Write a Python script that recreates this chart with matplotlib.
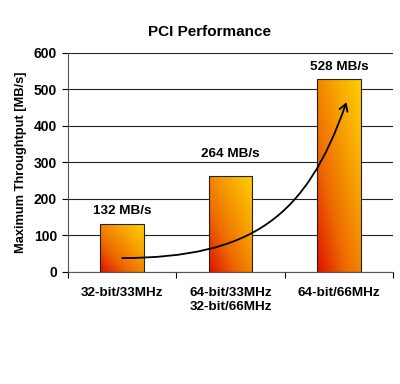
import numpy as np
import matplotlib
matplotlib.use('Agg')
import matplotlib.pyplot as plt
from matplotlib.colors import LinearSegmentedColormap
from matplotlib.patches import FancyArrowPatch
from matplotlib.path import Path

plt.rcParams['font.family'] = ['Liberation Sans', 'DejaVu Sans']

# data
categories = ['32-bit/33MHz', '64-bit/33MHz\n32-bit/66MHz', '64-bit/66MHz']
throughput = [132, 264, 528]
bar_labels = ['132 MB/s', '264 MB/s', '528 MB/s']
# trend curve (bezier control points, data coords)
curve_x = [0.0, 1.2, 1.7, 2.07]
curve_y = [38, 40, 150, 465]

fig = plt.figure(figsize=(4.0, 3.84), dpi=100)
ax = fig.add_axes([0.17, 0.2917, 0.8125, 0.5703])

x = np.arange(len(categories))
width = 0.4
bars = ax.bar(x, throughput, width=width, color='none', edgecolor='#222222',
              linewidth=0.8, zorder=3)

cmap = LinearSegmentedColormap.from_list(
    'pci', ['#dd1400', '#ee6a00', '#f7a000', '#ffcf00'])
u, v = np.meshgrid(np.linspace(0, 1, 64), np.linspace(0, 1, 64))
grad = (u + v) / 2
for b in bars:
    x0, y0 = b.get_x(), b.get_y()
    im = ax.imshow(grad, cmap=cmap, origin='lower', aspect='auto',
                   extent=[x0, x0 + b.get_width(), y0, y0 + b.get_height()],
                   zorder=2)
    im.set_clip_path(b)

offsets = [5, 11.5, 4.5]
for b, lab, off in zip(bars, bar_labels, offsets):
    ax.annotate(lab, (b.get_x() + b.get_width() / 2, b.get_height()),
                xytext=(0, off), textcoords='offset points',
                ha='center', va='bottom', fontsize=9.7, fontweight='bold')

path = Path(list(zip(curve_x, curve_y)),
            [Path.MOVETO, Path.CURVE4, Path.CURVE4, Path.CURVE4])
arrow = FancyArrowPatch(path=path, arrowstyle='->,head_length=5,head_width=3',
                        color='black', linewidth=1.3, zorder=4)
ax.add_patch(arrow)

ax.set_xlim(-0.5, 2.5)
ax.set_ylim(0, 600)
ax.set_yticks(np.arange(0, 601, 100))
ax.set_xticks([-0.5, 0.5, 1.5, 2.5])
ax.set_xticklabels([])
ax.set_xticks(x, minor=True)
ax.set_xticklabels(categories, minor=True, fontsize=9.7, fontweight='bold')
ax.tick_params(axis='x', which='minor', length=0, pad=11)
ax.tick_params(axis='x', which='major', length=4, direction='out')
ax.tick_params(axis='y', length=4, labelsize=10, pad=4)
for t in ax.get_yticklabels():
    t.set_fontweight('bold')

ax.yaxis.grid(True, color='#222222', linewidth=0.8)
ax.set_axisbelow(True)
for s in ['top', 'right']:
    ax.spines[s].set_visible(False)
ax.spines['left'].set_color('#555555')
ax.spines['bottom'].set_color('#555555')

ax.set_ylabel('Maximum Throughtput [MB/s]', fontsize=9.3, fontweight='bold',
              labelpad=5)
fig.text(209 / 400, 1 - 32 / 384, 'PCI Performance', fontsize=11,
         fontweight='bold', ha='center', va='center')

fig.savefig('out.png', dpi=100)
